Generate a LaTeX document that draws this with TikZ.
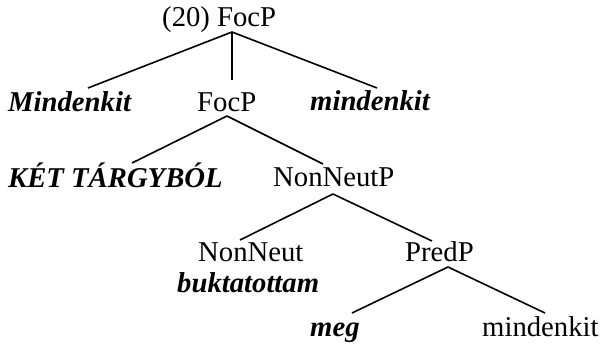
\documentclass[tikz,border=0pt]{standalone}
\usepackage{fontspec}
\setmainfont{Liberation Serif}
\begin{document}
\begin{tikzpicture}[x=1pt,y=-1pt,
  lbl/.style={anchor=base west,inner sep=0pt,font=\fontsize{28.7}{34}\selectfont},
  emph/.style={lbl,font=\fontsize{28.7}{34}\selectfont\bfseries\itshape},
  branch/.style={line width=1.6pt}]
\useasboundingbox (0,0) rectangle (600,344);
% nodes
\node[lbl]  (root) at (162,27) {(20) FocP};
\node[emph] (mind1) at (8,112) {Mindenkit};
\node[lbl]  (focp) at (197,112) {FocP};
\node[emph] (mind2) at (310,111) {mindenkit};
\node[emph] (ket) at (8,188) {KÉT TÁRGYBÓL};
\node[lbl]  (nnp) at (273,187) {NonNeutP};
\node[lbl]  (nn) at (198,262) {NonNeut};
\node[emph] (bukt) at (177,293) {buktatottam};
\node[lbl]  (predp) at (405,262) {PredP};
\node[emph] (meg) at (310,337) {meg};
\node[lbl]  (mind3) at (482,337) {mindenkit};
% attachment points
\coordinate (rootB) at (232,32);
\coordinate (mind1T) at (88,88);
\coordinate (focpT) at (232,80);
\coordinate (mind2T) at (377,88);
\coordinate (focpB) at (227,116);
\coordinate (ketT) at (132,163);
\coordinate (nnpT) at (323,164);
\coordinate (nnpB) at (333,194);
\coordinate (nnT) at (240,240);
\coordinate (predpT) at (432,241);
\coordinate (predpB) at (448,267);
\coordinate (megT) at (352,313);
\coordinate (mind3T) at (545,313);
% branches
\draw[branch] (rootB) -- (mind1T);
\draw[branch] (rootB) -- (focpT);
\draw[branch] (rootB) -- (mind2T);
\draw[branch] (focpB) -- (ketT);
\draw[branch] (focpB) -- (nnpT);
\draw[branch] (nnpB) -- (nnT);
\draw[branch] (nnpB) -- (predpT);
\draw[branch] (predpB) -- (megT);
\draw[branch] (predpB) -- (mind3T);
\end{tikzpicture}
\end{document}
